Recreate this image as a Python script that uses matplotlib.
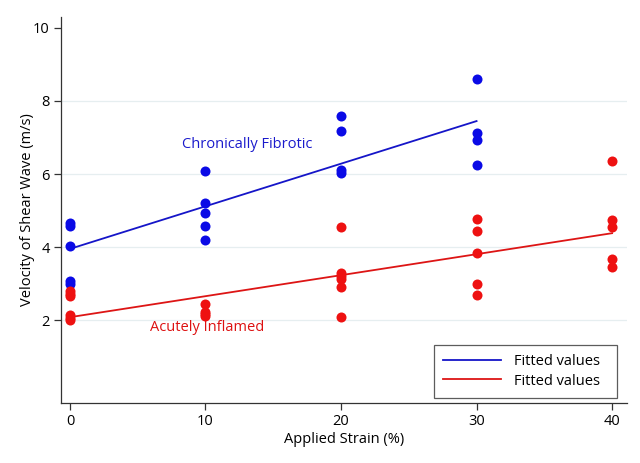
import matplotlib
matplotlib.use("Agg")
import matplotlib.pyplot as plt
from matplotlib.lines import Line2D

plt.rcParams['font.family'] = ['Open Sans', 'DejaVu Sans']

# Chronically fibrotic (blue)
fib_x = [0, 0, 0, 0, 0,
         10, 10, 10, 10, 10,
         20, 20, 20, 20,
         30, 30, 30, 30]
fib_y = [4.65, 4.58, 4.02, 3.08, 3.00,
         6.08, 5.22, 4.92, 4.58, 4.19,
         7.60, 7.18, 6.10, 6.04,
         8.60, 7.11, 6.93, 6.24]

# Acutely inflamed (red)
inf_x = [0, 0, 0, 0, 0, 0,
         10, 10, 10, 10,
         20, 20, 20, 20, 20, 20,
         30, 30, 30, 30, 30,
         40, 40, 40, 40, 40]
inf_y = [2.80, 2.72, 2.65, 2.13, 2.05, 2.00,
         2.43, 2.22, 2.16, 2.12,
         4.55, 3.28, 3.20, 3.12, 2.90, 2.08,
         4.78, 4.44, 3.85, 3.00, 2.68,
         6.36, 4.74, 4.56, 3.67, 3.46]

# Fitted values
fib_fit_x = [0, 30]
fib_fit_y = [3.95, 7.45]
inf_fit_x = [0, 40]
inf_fit_y = [2.08, 4.38]

x_ticks = [0, 10, 20, 30, 40]
y_ticks = [2, 4, 6, 8, 10]

blue = '#0a0ae6'
red = '#ee1111'
line_blue = '#1515c8'
line_red = '#dd1515'

fig = plt.figure(figsize=(6.4, 4.63), dpi=100)
ax = fig.add_axes([61/640, 1 - 403/463, 566/640, 386/463])

for yv in [2, 4, 6, 8]:
    ax.axhline(yv, color='#e6eef0', lw=0.9, zorder=0)

ax.scatter(fib_x, fib_y, s=52, color=blue, zorder=3, linewidths=0)
ax.scatter(inf_x, inf_y, s=52, color=red, zorder=3, linewidths=0)
ax.plot(fib_fit_x, fib_fit_y, color=line_blue, lw=1.3, zorder=2)
ax.plot(inf_fit_x, inf_fit_y, color=line_red, lw=1.3, zorder=2)

ax.text(13.05, 6.8, 'Chronically Fibrotic', color='#1a1acc', fontsize=10.5,
        ha='center', va='center')
ax.text(10.1, 1.81, 'Acutely Inflamed', color='#dd1111', fontsize=10.5,
        ha='center', va='center')

ax.set_xlim(-0.66, 41.1)
ax.set_ylim(-0.27, 10.3)
ax.set_xticks(x_ticks)
ax.set_yticks(y_ticks)
ax.tick_params(direction='out', length=5, width=0.9, color='#333333',
               labelsize=10.5, pad=3)
for s in ['top', 'right']:
    ax.spines[s].set_visible(False)
for s in ['left', 'bottom']:
    ax.spines[s].set_color('#333333')
    ax.spines[s].set_linewidth(0.9)

ax.set_xlabel('Applied Strain (%)', fontsize=10.5, labelpad=2)
ax.set_ylabel('Velocity of Shear Wave (m/s)', fontsize=10.5, labelpad=-1)

handles = [Line2D([0], [0], color=line_blue, lw=1.3),
           Line2D([0], [0], color=line_red, lw=1.3)]
leg = ax.legend(handles, ['Fitted values  ', 'Fitted values  '],
                loc='lower right', bbox_to_anchor=(0.982, 0.013),
                fontsize=10.5, frameon=True, fancybox=False,
                edgecolor='#333333', handlelength=4.0, handletextpad=0.85,
                borderpad=0.65, labelspacing=0.3, borderaxespad=0)
leg.get_frame().set_linewidth(0.9)

fig.savefig('out.png', dpi=100, facecolor='white')
